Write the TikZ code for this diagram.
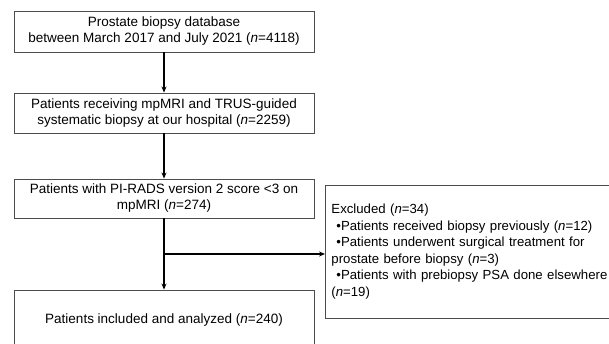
\documentclass[tikz,border=0pt]{standalone}
\usepackage{fontspec}
\setmainfont{Liberation Sans}
\usetikzlibrary{arrows.meta}
\begin{document}
\begin{tikzpicture}[x=1pt,y=-1pt,
  box/.style={draw=black!70, line width=0.9pt, minimum width=300pt, inner sep=0pt, align=center, font=\fontsize{13.5}{16}\selectfont},
  exbox/.style={draw=black!70, line width=0.9pt, anchor=west, text width=280pt, inner xsep=6pt, inner ysep=0pt, minimum height=133pt, align=left, font=\fontsize{13.2}{16.6}\selectfont},
  arr/.style={line width=1.4pt, -{Stealth[length=6pt,width=5pt]}}]
\useasboundingbox (0,0) rectangle (609,344);
\clip (0,0) rectangle (609,344);
\node[box, minimum height=41pt] (b1) at (164,31.5) {Prostate biopsy database\\between March 2017 and July 2021 (\textit{n}=4118)};
\node[box, minimum height=40pt] (b2) at (164,113) {Patients receiving mpMRI and TRUS-guided\\systematic biopsy at our hospital (\textit{n}=2259)};
\node[box, minimum height=39pt] (b3) at (164,198.5) {Patients with PI-RADS version 2 score <3 on\\mpMRI (\textit{n}=274)};
\node[box, minimum height=60pt] (b4) at (164,320) {Patients included and analyzed (\textit{n}=240)};
\node[exbox] (ex) at (325,251.5) {Excluded (\textit{n}=34)\\
\hspace*{5pt}•Patients received biopsy previously (\textit{n}=12)\\
\hspace*{5pt}•Patients underwent surgical treatment for\\
prostate before biopsy (\textit{n}=3)\\
\hspace*{5pt}•Patients with prebiopsy PSA done elsewhere\\
(\textit{n}=19)};
\coordinate (br) at (164,254);
\draw[arr] (b1) -- (b2);
\draw[arr] (b2) -- (b3);
\draw[arr] (b3) -- (b4);
\draw[arr] (br) -- (br -| ex.west);
\end{tikzpicture}
\end{document}
